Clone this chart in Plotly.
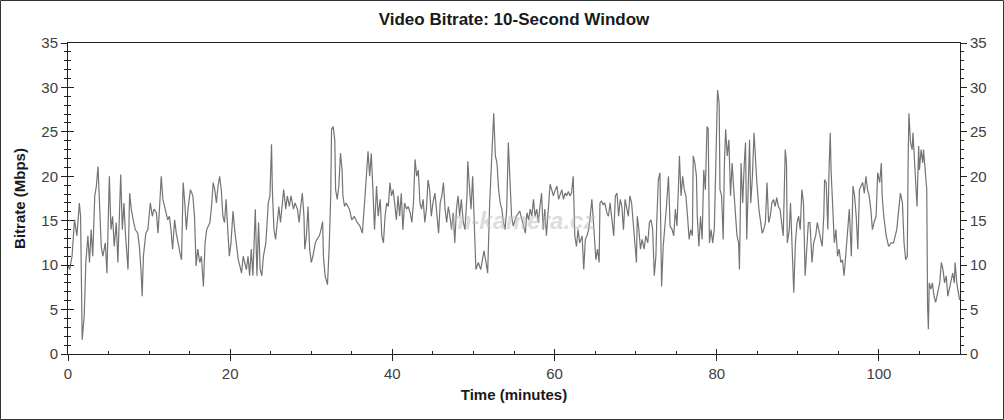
import plotly.graph_objects as go

# Values
time_min = [
    0.0, 0.2, 0.5, 0.8, 1.1, 1.4, 1.55, 1.75, 2.0, 2.2, 2.45, 2.65, 2.85, 3.05, 3.3, 3.5, 3.7, 3.9,
    4.1, 4.3, 4.6, 4.8, 5.1, 5.3, 5.5, 5.7, 5.95, 6.15, 6.35, 6.5, 6.7, 6.9, 7.1, 7.4, 7.6, 7.8,
    8.1, 8.3, 8.6, 8.8, 9.0, 9.15, 9.3, 9.6, 9.85, 10.15, 10.4, 10.6, 10.9, 11.1, 11.3, 11.5, 11.7,
    12.0, 12.3, 12.5, 12.7, 12.9, 13.15, 13.35, 13.55, 13.8, 14.0, 14.2, 14.4, 14.6, 14.8, 15.1,
    15.4, 15.6, 15.8, 16.0, 16.25, 16.45, 16.7, 16.9, 17.1, 17.5, 17.7, 17.9, 18.1, 18.3, 18.5,
    18.7, 18.9, 19.1, 19.3, 19.5, 19.7, 19.9, 20.1, 20.35, 20.55, 20.8, 21.0, 21.2, 21.4, 21.6,
    21.8, 22.0, 22.2, 22.4, 22.6, 22.8, 23.1, 23.3, 23.5, 23.7, 23.9, 24.1, 24.4, 24.7, 24.9, 25.1,
    25.2, 25.4, 25.6, 25.8, 26.0, 26.2, 26.4, 26.6, 26.85, 27.05, 27.3, 27.5, 27.8, 28.0, 28.3,
    28.5, 28.7, 28.9, 29.1, 29.2, 29.4, 29.6, 29.8, 30.0, 30.2, 30.5, 30.7, 31.0, 31.2, 31.4, 31.5,
    31.7, 32.0, 32.2, 32.4, 32.5, 32.7, 32.9, 33.0, 33.2, 33.4, 33.6, 33.8, 33.9, 34.1, 34.3, 34.7,
    35.0, 35.3, 35.6, 36.0, 36.3, 36.6, 36.8, 37.0, 37.2, 37.4, 37.6, 37.8, 38.05, 38.25, 38.5,
    38.7, 38.9, 39.1, 39.3, 39.5, 39.7, 39.9, 40.1, 40.3, 40.5, 40.7, 40.9, 41.1, 41.3, 41.5, 41.75,
    41.95, 42.2, 42.4, 42.6, 42.8, 43.0, 43.2, 43.4, 43.6, 43.8, 44.0, 44.2, 44.4, 44.6, 44.8, 45.0,
    45.25, 45.45, 45.7, 45.9, 46.1, 46.3, 46.5, 46.7, 46.9, 47.1, 47.3, 47.5, 47.7, 47.9, 48.1,
    48.3, 48.5, 48.75, 48.95, 49.2, 49.3, 49.5, 49.7, 49.9, 50.1, 50.2, 50.3, 50.6, 50.9, 51.1,
    51.3, 51.55, 51.75, 52.0, 52.2, 52.4, 52.5, 52.7, 52.9, 53.1, 53.3, 53.5, 53.7, 53.9, 54.1,
    54.3, 54.5, 54.7, 54.9, 55.3, 55.7, 56.2, 56.4, 56.6, 56.8, 57.0, 57.2, 57.4, 57.6, 57.8, 58.0,
    58.2, 58.4, 58.6, 58.8, 59.0, 59.2, 59.45, 59.65, 59.85, 60.1, 60.3, 60.5, 60.7, 60.9, 61.1,
    61.3, 61.5, 61.7, 61.9, 62.1, 62.3, 62.4, 62.5, 62.7, 62.9, 63.1, 63.4, 63.6, 63.8, 64.0, 64.2,
    64.4, 64.6, 64.8, 65.0, 65.1, 65.3, 65.5, 65.6, 65.8, 66.0, 66.2, 66.45, 66.65, 66.85, 67.05,
    67.3, 67.5, 67.7, 67.9, 68.1, 68.3, 68.5, 68.7, 68.9, 69.1, 69.3, 69.5, 69.7, 69.9, 70.1, 70.2,
    70.4, 70.6, 70.8, 71.05, 71.25, 71.5, 71.7, 71.9, 72.1, 72.3, 72.5, 72.6, 72.8, 73.0, 73.2,
    73.4, 73.6, 73.8, 74.05, 74.25, 74.5, 74.7, 74.9, 75.1, 75.3, 75.4, 75.6, 75.8, 76.0, 76.2,
    76.4, 76.6, 76.8, 77.0, 77.1, 77.3, 77.5, 77.6, 77.8, 78.0, 78.2, 78.4, 78.6, 78.8, 78.95,
    79.1, 79.3, 79.5, 79.7, 79.9, 80.1, 80.3, 80.4, 80.6, 80.8, 80.95, 81.1, 81.3, 81.5, 81.7,
    81.9, 82.1, 82.3, 82.5, 82.7, 82.8, 83.0, 83.2, 83.4, 83.55, 83.7, 83.9, 84.05, 84.2, 84.4,
    84.6, 84.8, 84.95, 85.2, 85.4, 85.6, 85.8, 86.0, 86.2, 86.4, 86.6, 86.8, 87.0, 87.2, 87.4,
    87.6, 87.8, 88.0, 88.2, 88.45, 88.6, 88.7, 88.95, 89.1, 89.3, 89.5, 89.7, 89.9, 90.1, 90.3,
    90.5, 90.7, 90.9, 91.1, 91.3, 91.5, 91.75, 91.95, 92.2, 92.4, 92.6, 92.8, 93.0, 93.2, 93.3,
    93.5, 93.7, 93.85, 94.0, 94.1, 94.3, 94.5, 94.7, 94.9, 95.1, 95.3, 95.5, 95.7, 95.9, 96.15,
    96.35, 96.6, 96.8, 97.0, 97.2, 97.4, 97.6, 97.8, 98.0, 98.2, 98.4, 98.6, 98.8, 99.0, 99.2,
    99.4, 99.65, 99.85, 100.1, 100.3, 100.4, 100.6, 100.9, 101.2, 101.5, 101.8, 102.2, 102.45,
    102.65, 102.9, 103.1, 103.3, 103.5, 103.6, 103.7, 103.9, 104.1, 104.2, 104.4, 104.5, 104.7,
    104.9, 105.0, 105.2, 105.4, 105.5, 105.7, 105.9, 106.0, 106.1, 106.2, 106.4, 106.6, 106.8,
    107.0, 107.3, 107.5, 107.7, 107.9, 108.1, 108.3, 108.5, 108.7, 108.9, 109.1, 109.3, 109.4,
    109.6, 109.85, 109.95,
]
bitrate_mbps = [
    10.0, 9.5, 11.0, 15.1, 13.3, 17.0, 15.5, 1.6, 4.3, 10.3, 13.3, 10.3, 14.0, 11.0, 17.8, 18.9, 21.1, 17.0,
    12.1, 11.0, 12.5, 9.1, 20.0, 14.0, 15.5, 12.1, 14.8, 10.3, 17.0, 20.2, 14.0, 17.0, 13.3, 9.5, 18.1, 16.3,
    14.8, 14.0, 13.6, 12.1, 9.5, 6.5, 11.0, 13.6, 14.0, 17.0, 15.5, 16.3, 15.9, 13.6, 16.6, 20.0, 17.4,
    16.3, 15.1, 15.5, 14.0, 11.8, 15.1, 13.6, 12.5, 11.4, 10.6, 19.3, 17.0, 14.0, 16.3, 18.5,
    17.8, 15.5, 9.9, 11.8, 10.3, 11.0, 7.6, 12.5, 14.0, 14.8, 16.6, 19.3, 18.5, 17.0, 18.9,
    20.0, 18.5, 15.5, 14.8, 17.4, 14.0, 11.0, 12.5, 16.1, 14.0, 12.1, 10.6, 9.9, 9.1, 11.0,
    10.3, 9.5, 11.0, 8.8, 11.8, 8.8, 16.3, 8.8, 14.8, 9.5, 8.8, 11.0, 12.5, 17.0, 17.8, 23.6,
    18.5, 14.0, 12.9, 14.4, 16.6, 14.8, 17.0, 18.5, 16.3, 17.8, 16.6, 17.8, 16.3, 17.0, 16.3,
    14.8, 16.6, 18.1, 15.5, 11.8, 13.3, 16.6, 11.8, 10.3, 11.0, 12.5, 12.9, 13.3, 14.0, 14.9, 11.0,
    8.8, 7.8, 11.8, 17.8, 25.3, 25.6, 24.1, 18.5, 17.4, 18.9, 22.6, 20.7, 17.8, 16.6, 17.0, 16.3,
    15.1, 15.5, 14.9, 14.4, 13.6, 17.4, 20.7, 22.8, 20.0, 22.6, 18.5, 14.0, 18.9, 15.5, 17.4,
    13.3, 12.5, 15.5, 17.0, 16.6, 19.3, 17.8, 18.5, 16.3, 15.1, 17.8, 15.5, 18.1, 14.0, 17.0, 16.3,
    16.6, 15.9, 14.8, 17.0, 21.9, 20.0, 20.7, 17.0, 16.3, 17.4, 14.8, 16.3, 19.6, 18.5, 15.5, 17.0,
    18.1, 15.9, 13.6, 17.0, 17.8, 19.3, 16.3, 14.8, 16.6, 15.5, 14.0, 15.9, 12.5, 16.3, 17.8,
    15.5, 17.4, 14.8, 14.0, 17.8, 21.7, 18.9, 16.3, 20.0, 14.4, 11.0, 9.5, 10.3, 9.5, 10.6,
    11.6, 10.3, 9.1, 17.0, 21.5, 25.3, 27.1, 22.3, 21.5, 18.5, 17.0, 16.3, 14.8, 14.0, 16.3,
    23.8, 19.6, 15.5, 14.4, 15.5, 16.1, 14.4, 13.6, 15.9, 15.1, 16.3, 15.5, 17.4, 15.5, 16.3, 14.8,
    16.6, 18.1, 14.0, 16.3, 13.3, 16.3, 19.1, 18.5, 17.8, 18.5, 18.9, 17.4, 18.1, 18.5, 17.4,
    18.1, 17.8, 18.3, 17.8, 18.1, 20.0, 17.0, 13.3, 12.1, 14.0, 12.5, 13.3, 9.5, 12.9, 13.3, 14.0,
    15.5, 17.4, 14.8, 12.1, 10.6, 11.8, 10.3, 17.0, 17.2, 16.8, 17.0, 15.9, 15.5, 17.0, 15.5,
    13.3, 17.8, 18.1, 15.5, 17.4, 16.6, 14.0, 17.4, 16.6, 15.5, 17.8, 17.0, 14.8, 12.1, 10.3, 15.5,
    14.0, 11.8, 12.9, 11.8, 13.3, 12.5, 14.8, 15.1, 14.0, 8.8, 11.0, 14.8, 19.6, 20.4, 7.6,
    12.1, 14.0, 16.6, 20.0, 14.4, 14.0, 13.3, 16.3, 14.4, 19.3, 22.3, 17.8, 20.0, 18.5, 17.8,
    15.5, 12.9, 14.0, 13.3, 22.3, 21.5, 20.0, 15.5, 12.1, 15.5, 12.9, 20.7, 18.5, 25.6, 25.3,
    12.5, 14.0, 12.5, 14.0, 23.0, 29.7, 28.2, 18.5, 17.8, 12.9, 21.5, 25.3, 22.3, 24.1, 17.8,
    21.5, 18.5, 15.5, 13.3, 12.5, 9.5, 21.5, 17.0, 21.5, 23.8, 12.9, 21.5, 24.1, 17.0, 20.0,
    24.9, 20.7, 19.3, 16.3, 14.8, 13.6, 14.0, 14.8, 19.3, 14.8, 15.5, 17.0, 17.4, 16.6, 17.6,
    16.6, 16.3, 14.8, 13.3, 23.0, 21.5, 12.5, 14.0, 17.0, 12.5, 6.9, 12.5, 14.8, 15.5, 14.0,
    18.5, 17.0, 8.8, 12.5, 14.8, 14.8, 10.3, 12.5, 13.3, 14.8, 14.0, 12.9, 12.1, 15.5, 19.6,
    19.3, 14.0, 20.7, 24.9, 20.7, 15.5, 12.5, 14.0, 11.0, 11.8, 10.3, 10.6, 8.8, 11.0, 14.0,
    16.3, 11.0, 18.9, 17.8, 15.5, 11.8, 18.5, 18.9, 19.3, 18.1, 20.0, 18.5, 17.8, 16.3, 14.0,
    14.8, 15.5, 20.4, 19.3, 21.5, 17.8, 15.5, 13.3, 12.1, 12.5, 12.5, 14.0, 16.3,
    18.1, 17.0, 12.5, 10.6, 11.0, 21.5, 27.1, 23.8, 23.0, 24.9, 21.5, 19.6, 16.6,
    23.4, 20.7, 23.0, 21.5, 23.0, 20.4, 18.5, 5.4, 2.8, 8.0, 7.3, 8.0, 6.5,
    5.8, 7.3, 8.0, 10.3, 9.5, 8.0, 8.8, 6.5, 7.3, 8.0, 9.1, 8.0, 10.3,
    8.0, 6.9, 6.1,
]

x_ticks = [0, 20, 40, 60, 80, 100]
y_ticks = [0, 5, 10, 15, 20, 25, 30, 35]

chart_title = "Video Bitrate: 10-Second Window"
x_title = "Time (minutes)"
y_title = "Bitrate (Mbps)"
watermark = "m-kamera.cz"

W, H = 1004, 420
ML, MR, MT, MB = 68, 44, 43, 66
PW, PH = W - ML - MR, H - MT - MB

FONT = "Liberation Sans, Arial, sans-serif"
AX = "#222222"
LBL = "#404040"
TTL = "#1a1a1a"

fig = go.Figure()
fig.add_trace(go.Scatter(
    x=time_min, y=bitrate_mbps, mode="lines",
    line=dict(color="#747474", width=1.2),
    hoverinfo="skip", showlegend=False,
))

common_y = dict(range=[0, 35], showgrid=False, zeroline=False, fixedrange=True, automargin=False,
                tickvals=y_ticks, linecolor=AX, linewidth=1, tickcolor=AX)
common_x = dict(range=[0, 110], showgrid=False, zeroline=False, fixedrange=True, automargin=False,
                tickvals=x_ticks, linecolor=AX, linewidth=1, tickcolor=AX)
tick_font = dict(size=15, color=LBL, family=FONT)

fig.update_layout(
    width=W, height=H,
    margin=dict(l=ML, r=MR, t=MT, b=MB, autoexpand=False),
    paper_bgcolor="white", plot_bgcolor="white",
    font=dict(family=FONT, size=14, color=LBL),
    title=dict(text="<b>" + chart_title + "</b>", x=0.5, xanchor="center", xref="paper",
               y=1 - 19 / H, yanchor="middle", font=dict(size=17, color=TTL, family=FONT)),
    xaxis=dict(**common_x, showline=True, ticks="outside", ticklen=6, tickwidth=1,
               tickfont=tick_font,
               title=dict(text="<b>" + x_title + "</b>", font=dict(size=15, color=TTL), standoff=8)),
    xaxis2=dict(**common_x, overlaying="x", side="bottom", showline=True, mirror=True,
                ticks="inside", ticklen=5, tickwidth=1, showticklabels=False,
                minor=dict(dtick=5, ticks="inside", ticklen=3, tickcolor=AX)),
    yaxis=dict(**common_y, showline=True, ticks="outside", ticklen=6, tickwidth=1,
               minor=dict(dtick=1, ticks="outside", ticklen=3, tickcolor=AX),
               tickfont=tick_font,
               title=dict(text="<b>" + y_title + "</b>", font=dict(size=15, color=TTL), standoff=12)),
    yaxis2=dict(**common_y, overlaying="y", side="right", showline=True, ticks="outside",
                ticklen=6, tickwidth=1, minor=dict(dtick=1, ticks="outside", ticklen=3, tickcolor=AX),
                tickfont=tick_font, anchor="x"),
    yaxis3=dict(**common_y, overlaying="y", side="left", showline=True, mirror=True,
                ticks="inside", ticklen=6, tickwidth=1, showticklabels=False,
                minor=dict(dtick=1, ticks="inside", ticklen=3, tickcolor=AX), anchor="x"),
)

# invisible traces so the overlay axes are drawn
fig.add_trace(go.Scatter(x=time_min, y=bitrate_mbps, mode="lines", xaxis="x2", yaxis="y2",
                         line=dict(width=0), opacity=0, hoverinfo="skip", showlegend=False))
fig.add_trace(go.Scatter(x=time_min, y=bitrate_mbps, mode="lines", xaxis="x2", yaxis="y3",
                         line=dict(width=0), opacity=0, hoverinfo="skip", showlegend=False))

# watermark
fig.add_annotation(text="<b><i>" + watermark + "</i></b>", xref="paper", yref="paper",
                   x=(522 - ML) / PW, y=(H - MB - 220) / PH, showarrow=False,
                   font=dict(size=24, color="rgba(190,190,190,0.55)", family=FONT))

# outer frame around the whole picture
fig.add_shape(type="rect", xref="paper", yref="paper",
              x0=(-ML + 0.5) / PW, x1=1 + (MR - 0.5) / PW,
              y0=(-MB + 0.5) / PH, y1=1 + (MT - 0.5) / PH,
              line=dict(color="#333333", width=1), layer="above")

fig.write_html("out.html", config={"displayModeBar": False, "staticPlot": True},
               post_script="document.body.style.margin='0';document.body.style.overflow='hidden';")
